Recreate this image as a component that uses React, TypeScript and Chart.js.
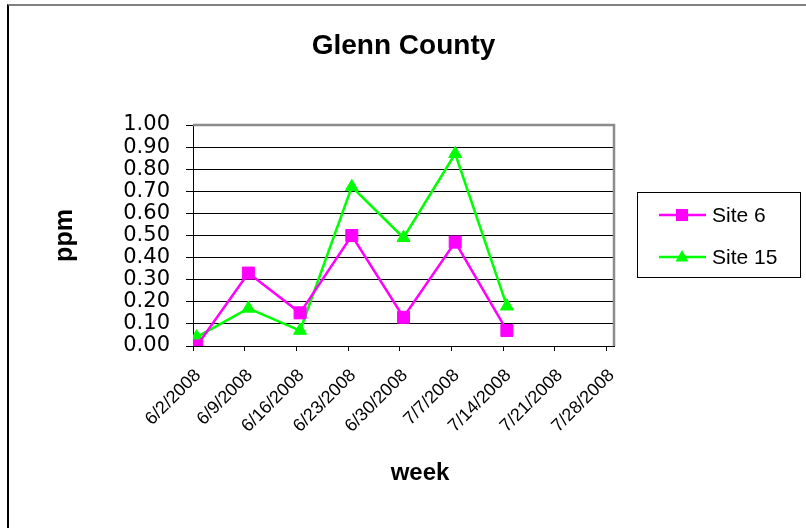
import { useEffect, useRef } from 'react';
import { Chart, registerables } from 'chart.js';

Chart.register(...registerables);

// ---- data ----
const tickDates = ['6/2/2008', '6/9/2008', '6/16/2008', '6/23/2008', '6/30/2008', '7/7/2008', '7/14/2008', '7/21/2008', '7/28/2008'];
const axisEndDate = '7/29/2008';
const sampleDates = ['6/2/2008', '6/9/2008', '6/16/2008', '6/23/2008', '6/30/2008', '7/7/2008', '7/14/2008'];
const site6 = [0.0, 0.33, 0.15, 0.5, 0.13, 0.47, 0.07];
const site15 = [0.04, 0.17, 0.07, 0.72, 0.49, 0.87, 0.18];
const seriesNames = ['Site 6', 'Site 15'];
const chartTitle = 'Glenn County';
const yTitle = 'ppm';
const xTitle = 'week';

const DAY = 86400000;
const parseDate = (s: string) => {
  const [m, d, y] = s.split('/').map(Number);
  return Date.UTC(y, m - 1, d);
};
const t0 = parseDate(tickDates[0]);
const dayOf = (s: string) => (parseDate(s) - t0) / DAY;
// Excel's date axis puts each mark in the middle of its day slot
const mid = (s: string) => dayOf(s) + 0.5;

const FONT = "'Liberation Sans', Arial, sans-serif";

const framePlugin = {
  id: 'framePlugin',
  beforeDatasetsDraw(chart: any) {
    const { ctx, chartArea: a } = chart;
    ctx.save();
    ctx.strokeStyle = '#8c8c8c';
    ctx.lineWidth = 2.5;
    ctx.beginPath();
    ctx.moveTo(a.left, a.top);
    ctx.lineTo(a.right, a.top);
    ctx.lineTo(a.right, a.bottom);
    ctx.stroke();
    ctx.restore();
  },
  afterDraw(chart: any) {
    const { ctx } = chart;
    ctx.save();
    // x axis title
    ctx.fillStyle = '#000';
    ctx.font = `bold 24px ${FONT}`;
    ctx.textAlign = 'center';
    ctx.textBaseline = 'middle';
    ctx.fillText(xTitle, 420, 473);

    // legend
    const bx = 637, by = 192, bw = 163, bh = 85;
    ctx.strokeStyle = '#000';
    ctx.lineWidth = 1;
    ctx.strokeRect(bx + 0.5, by + 0.5, bw, bh);
    const rows = [215, 257];
    chart.data.datasets.forEach((ds: any, i: number) => {
      const y = rows[i];
      ctx.strokeStyle = ds.borderColor;
      ctx.lineWidth = 2.5;
      ctx.beginPath();
      ctx.moveTo(659, y);
      ctx.lineTo(706, y);
      ctx.stroke();
      ctx.fillStyle = ds.backgroundColor;
      const cx = 682;
      if (ds.pointStyle === 'rect') {
        ctx.fillRect(cx - 6, y - 6, 12, 12);
      } else {
        ctx.beginPath();
        ctx.moveTo(cx, y - 7);
        ctx.lineTo(cx + 6.5, y + 4.5);
        ctx.lineTo(cx - 6.5, y + 4.5);
        ctx.closePath();
        ctx.fill();
      }
      ctx.fillStyle = '#000';
      ctx.font = `21px ${FONT}`;
      ctx.textAlign = 'left';
      ctx.textBaseline = 'middle';
      ctx.fillText(ds.label, 712, y + 1);
    });
    ctx.restore();
  },
};

export default function App() {
  const ref = useRef<HTMLCanvasElement | null>(null);

  useEffect(() => {
    if (!ref.current) return;
    const chart = new Chart(ref.current, {
      type: 'line',
      data: {
        datasets: [
          {
            label: seriesNames[0],
            data: sampleDates.map((d, i) => ({ x: mid(d), y: site6[i] })),
            borderColor: '#FF00FF',
            backgroundColor: '#FF00FF',
            borderWidth: 2.5,
            pointStyle: 'rect',
            pointRadius: 8.5,
            pointHoverRadius: 8.5,
            pointBorderWidth: 1,
            tension: 0,
          },
          {
            label: seriesNames[1],
            data: sampleDates.map((d, i) => ({ x: mid(d), y: site15[i] })),
            borderColor: '#00FF00',
            backgroundColor: '#00FF00',
            borderWidth: 2.5,
            pointStyle: 'triangle',
            pointRadius: 7.5,
            pointHoverRadius: 7.5,
            pointBorderWidth: 1,
            tension: 0,
          },
        ],
      },
      options: {
        animation: false,
        responsive: false,
        events: [],
        layout: { padding: { left: 50, right: 192, top: 0, bottom: 0 } },
        plugins: {
          legend: { display: false },
          tooltip: { enabled: false },
          title: {
            display: true,
            text: chartTitle,
            fullSize: false,
            color: '#000',
            font: { family: FONT, size: 28, weight: 'bold' },
            padding: { top: 29, bottom: 62.4 },
          },
        },
        scales: {
          x: {
            type: 'linear',
            min: 0,
            max: dayOf(axisEndDate),
            afterBuildTicks: (s: any) => {
              s.ticks = tickDates.map((d) => ({ value: dayOf(d) }));
            },
            afterFit: (s: any) => {
              s.height = 528 - 346;
            },
            ticks: {
              autoSkip: false,
              minRotation: 45,
              maxRotation: 45,
              color: '#000',
              font: { family: FONT, size: 18 },
              padding: 14,
              labelOffset: 5,
              callback: (_v: any, i: number) => tickDates[i],
            },
            grid: { drawOnChartArea: false, drawTicks: true, tickLength: 5, color: '#000' },
            border: { color: '#000', width: 1 },
          },
          y: {
            min: 0,
            max: 1,
            afterFit: (s: any) => {
              s.width = 193 - 50;
            },
            ticks: {
              stepSize: 0.1,
              autoSkip: false,
              color: '#000',
              font: { family: "'DejaVu Sans', sans-serif", size: 21 },
              padding: 16,
              callback: (v: any) => Number(v).toFixed(2),
            },
            grid: { color: '#000', lineWidth: 1, tickLength: 7 },
            border: { color: '#000', width: 1 },
            title: {
              display: true,
              text: yTitle,
              color: '#000',
              font: { family: FONT, size: 25, weight: 'bold' },
              padding: 0,
            },
          },
        },
      },
      plugins: [framePlugin],
    } as any);
    return () => chart.destroy();
  }, []);

  return (
    <div style={{ position: 'absolute', left: 0, top: 0, width: 806, height: 528, overflow: 'hidden', background: '#fff' }}>
      <div
        style={{
          position: 'absolute',
          left: 7,
          top: 4,
          right: -10,
          bottom: -10,
          borderTop: '2px solid #808080',
          borderLeft: '2px solid #000',
        }}
      />
      <canvas ref={ref} width={806} height={528} style={{ position: 'absolute', left: 0, top: 0 }} />
    </div>
  );
}
